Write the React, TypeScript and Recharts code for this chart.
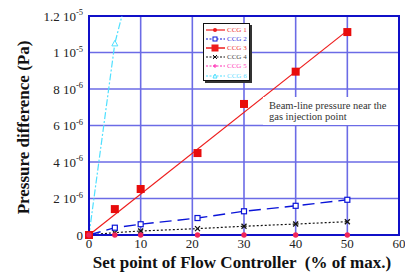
import React from "react";
import {
  ComposedChart,
  Line,
  XAxis,
  YAxis,
  CartesianGrid,
  ReferenceArea,
} from "recharts";

const xValues = [0, 5, 10, 21, 30, 40, 50];
const ccg1 = [0, 0, 0, 0, 0, 0, 0];
const ccg2 = [0, 4.0e-7, 5.9e-7, 9.3e-7, 1.3e-6, 1.6e-6, 1.93e-6];
const ccg3 = [0, 1.42e-6, 2.52e-6, 4.49e-6, 7.18e-6, 8.95e-6, 1.112e-5];
const ccg3Fit = [0, null, null, null, null, null, 1.12e-5];
const ccg4 = [0, 1.3e-7, 2.2e-7, 3.5e-7, 4.8e-7, 6.0e-7, 7.3e-7];
const ccg5 = [0, 0, 0, 0, 0, 0, 0];
const ccg6 = [0, 1.05e-5, 1.6e-5, null, null, null, null];

const xTicks = [0, 10, 20, 30, 40, 50, 60];
const yTicks = [0, 2e-6, 4e-6, 6e-6, 8e-6, 1e-5, 1.2e-5];
const yTickMantissa = ["0", "2 10", "4 10", "6 10", "8 10", "1 10", "1.2 10"];
const yTickExp = ["", "-6", "-6", "-6", "-6", "-5", "-5"];

const legendNames = ["CCG 1", "CCG 2", "CCG 3", "CCG 4", "CCG 5", "CCG 6"];
const annotationLines = ["Beam-line pressure near the", "gas injection point"];

const data = xValues.map((x, i) => ({
  x,
  ccg1: ccg1[i],
  ccg2: ccg2[i],
  ccg3: ccg3[i],
  ccg3Fit: ccg3Fit[i],
  ccg4: ccg4[i],
  ccg5: ccg5[i],
  ccg6: ccg6[i],
}));

const RED = "#ee1c1c";
const BLUE = "#0a14d8";
const BLACK = "#111111";
const MAGENTA = "#ff2fb4";
const CYAN = "#4fe0ff";
const PINK = "#f0255a";

const colors = [RED, BLUE, RED, BLACK, MAGENTA, CYAN];
const textColors = ["#ee3333", "#3333dd", "#ee3333", "#444444", "#ff44bb", "#66ddff"];
const dashes = ["", "6 3", "", "2 2", "2 2", "6 2 2 2"];

const FONT = "'Times New Roman', Times, 'Liberation Serif', serif";

function isBad(p: any) {
  return p == null || p.cx == null || p.cy == null || p.value == null || Number.isNaN(p.cy);
}

const CircleDot = (p: any) =>
  isBad(p) ? <g key={p.key} /> : <circle key={p.key} cx={p.cx} cy={p.cy} r={2.7} fill={PINK} stroke="none" />;
const OpenSquareDot = (p: any) =>
  isBad(p) ? <g key={p.key} /> : (
    <rect key={p.key} x={p.cx - 2.5} y={p.cy - 2.5} width={5} height={5} fill="#fff" stroke={BLUE} strokeWidth={1.2} />
  );
const FilledSquareDot = (p: any) =>
  isBad(p) ? <g key={p.key} /> : (
    <rect key={p.key} x={p.cx - 4} y={p.cy - 4} width={8} height={8} fill="#e80c0c" stroke="none" />
  );
const CrossDot = (p: any) =>
  isBad(p) ? <g key={p.key} /> : (
    <g key={p.key} stroke={BLACK} strokeWidth={1.3}>
      <line x1={p.cx - 2.5} y1={p.cy - 2.5} x2={p.cx + 2.5} y2={p.cy + 2.5} />
      <line x1={p.cx - 2.5} y1={p.cy + 2.5} x2={p.cx + 2.5} y2={p.cy - 2.5} />
    </g>
  );
const PlusDot = (p: any) =>
  isBad(p) ? <g key={p.key} /> : (
    <g key={p.key} stroke={MAGENTA} strokeWidth={1.2}>
      <line x1={p.cx - 2} y1={p.cy} x2={p.cx + 2} y2={p.cy} />
      <line x1={p.cx} y1={p.cy - 2} x2={p.cx} y2={p.cy + 2} />
    </g>
  );
const TriangleDot = (p: any) =>
  isBad(p) ? <g key={p.key} /> : (
    <polygon
      key={p.key}
      points={`${p.cx},${p.cy - 3} ${p.cx - 3},${p.cy + 2.5} ${p.cx + 3},${p.cy + 2.5}`}
      fill="#fff"
      stroke={CYAN}
      strokeWidth={1}
    />
  );

const YTick = (props: any) => {
  const { x, y, payload, index } = props;
  const i = yTicks.indexOf(payload.value);
  const idx = i >= 0 ? i : index;
  return (
    <text x={x} y={y} dy={4.5} textAnchor="end" style={{ fontFamily: FONT }} fontSize={13} fill="#222">
      <tspan>{yTickMantissa[idx]}</tspan>
      {yTickExp[idx] ? (
        <tspan dy={-5.5} fontSize={8.5}>
          {yTickExp[idx]}
        </tspan>
      ) : null}
    </text>
  );
};

const XTick = (props: any) => {
  const { x, y, payload } = props;
  return (
    <text x={x} y={y} dy={10} textAnchor="middle" style={{ fontFamily: FONT }} fontSize={13} fill="#222">
      {payload.value}
    </text>
  );
};

const YLabel = (props: any) => {
  const vb = props.viewBox || { x: 0, y: 16, width: 89, height: 219 };
  const cx = vb.x + 29;
  const cy = vb.y + vb.height / 2 + 2;
  return (
    <text
      x={cx}
      y={cy}
      transform={`rotate(-90, ${cx}, ${cy})`}
      textAnchor="middle"
      style={{ fontFamily: FONT }}
      fontWeight="bold"
      fontSize={17}
      fill="#111"
    >
      Pressure difference (Pa)
    </text>
  );
};

const XLabel = (props: any) => {
  const vb = props.viewBox || { x: 89, y: 235, width: 310, height: 39 };
  return (
    <text
      x={vb.x + vb.width / 2 - 2}
      y={vb.y + vb.height - 6}
      textAnchor="middle"
      fontWeight="bold"
      fontSize={17}
      fill="#111"
      style={{ whiteSpace: "pre", fontFamily: FONT }}
    >
      {"Set point of Flow Controller  (% of max.)"}
    </text>
  );
};

function LegendMarker({ i }: { i: number }) {
  const c = colors[i];
  const cx = 9;
  const cy = 4;
  let m: React.ReactNode = null;
  if (i === 0) m = <circle cx={cx} cy={cy} r={2} fill={c} />;
  if (i === 1) m = <rect x={cx - 2} y={cy - 2} width={4} height={4} fill="#fff" stroke={c} strokeWidth={1} />;
  if (i === 2) m = <rect x={cx - 3.5} y={cy - 3.5} width={7} height={7} fill={c} />;
  if (i === 3)
    m = (
      <g stroke={c} strokeWidth={1}>
        <line x1={cx - 2} y1={cy - 2} x2={cx + 2} y2={cy + 2} />
        <line x1={cx - 2} y1={cy + 2} x2={cx + 2} y2={cy - 2} />
      </g>
    );
  if (i === 4)
    m = (
      <g stroke={c} strokeWidth={1}>
        <line x1={cx - 2} y1={cy} x2={cx + 2} y2={cy} />
        <line x1={cx} y1={cy - 2} x2={cx} y2={cy + 2} />
      </g>
    );
  if (i === 5) m = <polygon points={`${cx},${cy - 2} ${cx - 2},${cy + 2} ${cx + 2},${cy + 2}`} fill="#fff" stroke={c} strokeWidth={1} />;
  return (
    <svg width={19} height={8} style={{ display: "block" }}>
      <line x1={0} y1={cy} x2={19} y2={cy} stroke={c} strokeWidth={i === 2 ? 1.5 : 1.2} strokeDasharray={dashes[i] ? "2 1.5" : undefined} />
      {m}
    </svg>
  );
}

export default function App() {
  return (
    <div style={{ position: "absolute", left: 0, top: 0, width: 405, height: 274, background: "#fff" }}>
      <ComposedChart
        width={405}
        height={274}
        data={data}
        margin={{ top: 16, right: 6, bottom: 0, left: 0 }}
      >
        <CartesianGrid yAxisId="left" stroke="#6b6be6" strokeWidth={1.6} horizontalValues={yTicks} verticalValues={xTicks} />
        <XAxis
          dataKey="x"
          type="number"
          domain={[0, 60]}
          ticks={xTicks}
          interval={0}
          height={39}
          tickLine={false}
          tickSize={0}
          tickMargin={3}
          axisLine={{ stroke: "#1010c8", strokeWidth: 2 }}
          tick={<XTick />}
          label={<XLabel />}
        />
        <YAxis
          yAxisId="left"
          type="number"
          domain={[0, 1.2e-5]}
          ticks={yTicks}
          interval={0}
          width={89}
          tickLine={false}
          tickSize={0}
          tickMargin={6}
          axisLine={{ stroke: "#1010c8", strokeWidth: 2 }}
          tick={<YTick />}
          label={<YLabel />}
        />
        <YAxis yAxisId="over" type="number" domain={[0, 1.2e-5]} allowDataOverflow hide />
        <ReferenceArea
          yAxisId="left"
          x1={0}
          x2={60}
          y1={0}
          y2={1.2e-5}
          fill="none"
          stroke="#1010c8"
          strokeWidth={2}
        />
        <Line
          yAxisId="over"
          dataKey="ccg6"
          stroke={CYAN}
          strokeWidth={1.2}
          strokeDasharray="7 2 2 2"
          dot={<TriangleDot />}
          isAnimationActive={false}
        />
        <Line
          yAxisId="left"
          dataKey="ccg4"
          stroke={BLACK}
          strokeWidth={1.2}
          strokeDasharray="2 2"
          dot={<CrossDot />}
          isAnimationActive={false}
        />
        <Line
          yAxisId="left"
          dataKey="ccg2"
          stroke={BLUE}
          strokeWidth={1.4}
          strokeDasharray="12 6"
          dot={<OpenSquareDot />}
          isAnimationActive={false}
        />
        <Line
          yAxisId="left"
          dataKey="ccg3Fit"
          stroke={RED}
          strokeWidth={1.2}
          connectNulls
          dot={false}
          isAnimationActive={false}
        />
        <Line yAxisId="left" dataKey="ccg3" stroke="none" dot={<FilledSquareDot />} isAnimationActive={false} />
        <Line
          yAxisId="left"
          dataKey="ccg5"
          stroke={MAGENTA}
          strokeWidth={1}
          strokeDasharray="2 2"
          dot={<PlusDot />}
          isAnimationActive={false}
        />
        <Line yAxisId="left" dataKey="ccg1" stroke={RED} strokeWidth={1.4} dot={<CircleDot />} isAnimationActive={false} />
      </ComposedChart>

      <div
        style={{
          position: "absolute",
          left: 263,
          top: 97,
          width: 135,
          height: 28,
          background: "#fff",
          fontFamily: FONT,
          fontSize: 10.5,
          lineHeight: "11px",
          color: "#333",
          paddingLeft: 6,
          paddingTop: 3,
          boxSizing: "border-box",
          whiteSpace: "nowrap",
        }}
      >
        {annotationLines.map((t) => (
          <div key={t}>{t}</div>
        ))}
      </div>

      <div
        style={{
          position: "absolute",
          left: 203,
          top: 23,
          width: 47,
          height: 58,
          background: "#fff",
          border: "1px solid #111",
          boxShadow: "2px 2px 0 #333",
          boxSizing: "border-box",
          padding: "1px 0 0 2px",
          overflow: "hidden",
        }}
      >
        {legendNames.map((n, i) => (
          <div key={n} style={{ display: "flex", alignItems: "center", height: 9.2 }}>
            <LegendMarker i={i} />
            <span
              style={{
                marginLeft: 2,
                fontFamily: FONT,
                fontSize: 7,
                lineHeight: "8px",
                color: textColors[i],
                whiteSpace: "nowrap",
              }}
            >
              {n}
            </span>
          </div>
        ))}
      </div>
    </div>
  );
}
